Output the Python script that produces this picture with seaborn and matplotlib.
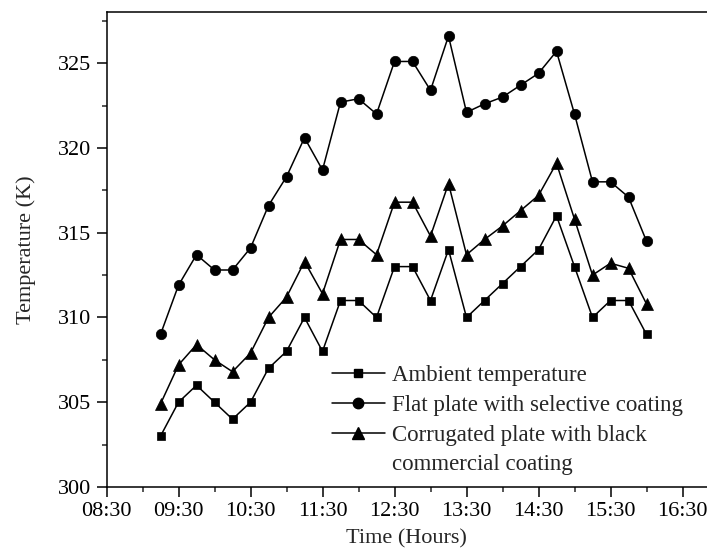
import numpy as np
import pandas as pd
import matplotlib
matplotlib.use("Agg")
import matplotlib.pyplot as plt
from matplotlib.lines import Line2D
from matplotlib.ticker import FixedLocator, MultipleLocator
import seaborn as sns

# ---- data ----
times = ["09:15", "09:30", "09:45", "10:00", "10:15", "10:30", "10:45", "11:00",
         "11:15", "11:30", "11:45", "12:00", "12:15", "12:30", "12:45", "13:00",
         "13:15", "13:30", "13:45", "14:00", "14:15", "14:30", "14:45", "15:00",
         "15:15", "15:30", "15:45", "16:00"]
ambient = [303, 305, 306, 305, 304, 305, 307, 308, 310, 308, 311, 311, 310, 313,
           313, 311, 314, 310, 311, 312, 313, 314, 316, 313, 310, 311, 311, 309]
flat_plate = [309.0, 311.9, 313.7, 312.8, 312.8, 314.1, 316.6, 318.3, 320.6, 318.7,
              322.7, 322.9, 322.0, 325.1, 325.1, 323.4, 326.6, 322.1, 322.6, 323.0,
              323.7, 324.4, 325.7, 322.0, 318.0, 318.0, 317.1, 314.5]
corrugated = [304.9, 307.2, 308.4, 307.5, 306.8, 307.9, 310.0, 311.2, 313.3, 311.4,
              314.6, 314.6, 313.7, 316.8, 316.8, 314.8, 317.9, 313.7, 314.6, 315.4,
              316.3, 317.2, 319.1, 315.8, 312.5, 313.2, 312.9, 310.8]
xtick_labels = ["08:30", "09:30", "10:30", "11:30", "12:30", "13:30", "14:30", "15:30", "16:30"]
labels = ["Ambient temperature", "Flat plate with selective coating",
          "Corrugated plate with black", "commercial coating"]


def to_hours(s):
    h, m = s.split(":")
    return int(h) + int(m) / 60.0


hours = [to_hours(t) for t in times]
df = pd.DataFrame({"hour": hours, "ambient": ambient,
                   "flat": flat_plate, "corr": corrugated})

sns.set_style("ticks")
plt.rcParams["font.family"] = ["Liberation Serif", "DejaVu Serif"]
plt.rcParams["mathtext.fontset"] = "stix"

fig = plt.figure(figsize=(7.07, 5.6), dpi=100)
W, H = 707, 560
left_px, right_px, top_px, bot_px = 106.5, 707, 12.3, 487
ax = fig.add_axes([left_px / W, 1 - bot_px / H, (right_px - left_px) / W, (bot_px - top_px) / H])

common = dict(ax=ax, color="black", linewidth=1.1, markeredgewidth=0.5,
              markeredgecolor="black", legend=False)
sns.lineplot(data=df, x="hour", y="ambient", marker="s", markersize=6, **common)
sns.lineplot(data=df, x="hour", y="flat", marker="o", markersize=7.5, **common)
sns.lineplot(data=df, x="hour", y="corr", marker="^", markersize=8.5, **common)

x0 = to_hours(xtick_labels[0])
x_max = x0 + (right_px - left_px) / 72.0
ax.set_xlim(x0, x_max)
ax.set_ylim(300, 328)

major_x = [to_hours(t) for t in xtick_labels]
ax.xaxis.set_major_locator(FixedLocator(major_x))
ax.set_xticklabels(xtick_labels)
ax.xaxis.set_minor_locator(FixedLocator([v + 0.5 for v in major_x[:-1]]))
ax.yaxis.set_major_locator(MultipleLocator(5))
ax.yaxis.set_minor_locator(MultipleLocator(2.5))

ax.tick_params(axis="both", which="major", direction="out", length=7, width=1.1,
               labelsize=16, pad=4, colors="black")
ax.tick_params(axis="both", which="minor", direction="out", length=3.5, width=1.1)

for side in ["left", "bottom", "top"]:
    ax.spines[side].set_linewidth(1.1)
    ax.spines[side].set_color("black")
ax.spines["right"].set_visible(False)

ax.set_xlabel("Time (Hours)", fontsize=16, labelpad=6)
ax.set_ylabel("Temperature (K)", fontsize=16, labelpad=16)

handles = [
    Line2D([], [], color="black", lw=1.1, marker="s", markersize=6),
    Line2D([], [], color="black", lw=1.1, marker="o", markersize=7.5),
    Line2D([], [], color="black", lw=1.1, marker="^", markersize=8.5),
    Line2D([], [], linestyle="none", marker=None),
]
leg = ax.legend(handles, labels, loc="upper left",
                bbox_to_anchor=(332 / W, 1 - 365 / H), bbox_transform=fig.transFigure,
                frameon=False, fontsize=16.5, handlelength=2.3, handletextpad=0.3,
                labelspacing=0.38, borderpad=0, borderaxespad=0)

fig.savefig("out.png", dpi=100)
